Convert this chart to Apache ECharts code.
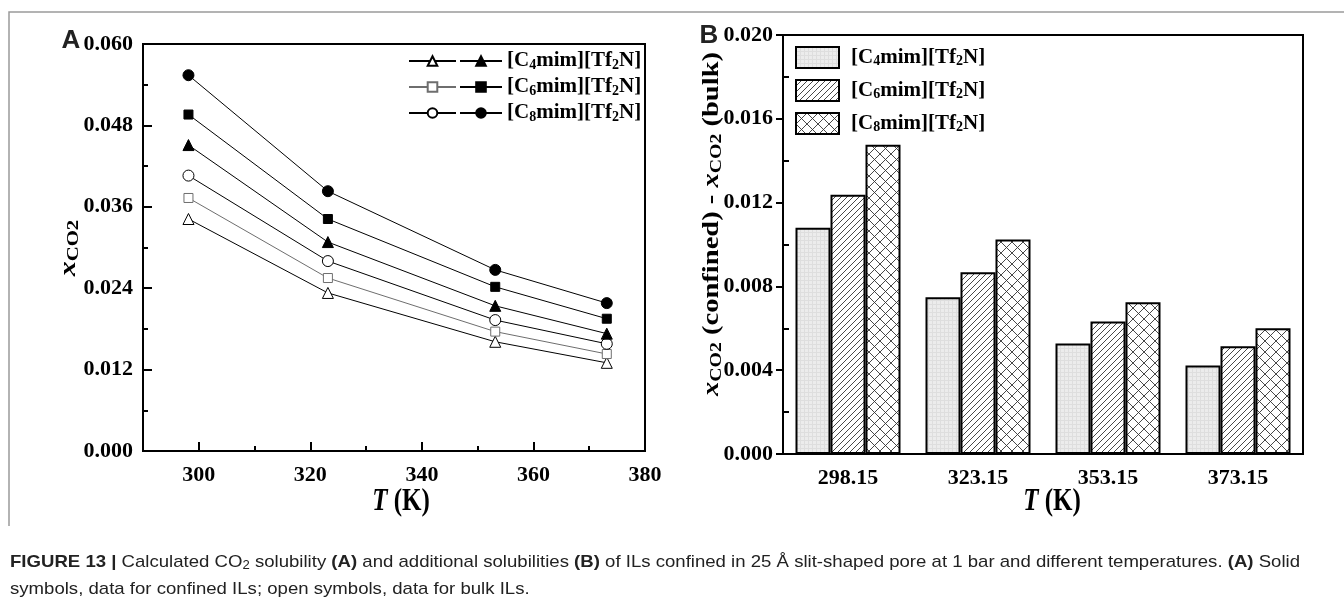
<!DOCTYPE html>
<html>
<head>
<meta charset="utf-8">
<script src="https://cdn.jsdelivr.net/npm/echarts@6/dist/echarts.min.js"></script>
<style>
html,body{margin:0;padding:0;background:#fff;}
#chart{width:1344px;height:602px;}
</style>
</head>
<body>
<div id="chart"></div>
<script>
// ---- Data ----
const temps = [298.15, 323.15, 353.15, 373.15];
const c4Bulk = [0.0342, 0.0233, 0.0161, 0.0130];
const c6Bulk = [0.0373, 0.0255, 0.0176, 0.0143];
const c8Bulk = [0.0406, 0.0280, 0.0193, 0.0158];
const c4Conf = [0.0451, 0.0308, 0.0214, 0.0173];
const c6Conf = [0.0496, 0.0342, 0.0242, 0.0195];
const c8Conf = [0.0554, 0.0383, 0.0267, 0.0218];

const tempCats = ['298.15', '323.15', '353.15', '373.15'];
const c4Diff = [0.0108, 0.00748, 0.00528, 0.00422];
const c6Diff = [0.01238, 0.00867, 0.00633, 0.00514];
const c8Diff = [0.01476, 0.01024, 0.00724, 0.00600];

const xMajorTicks = [300, 320, 340, 360, 380];
const xMinorTicks = [310, 330, 350, 370];

// ---- Styles ----
const SERIF = '"Liberation Serif", "Times New Roman", serif';
const SANS = '"Liberation Sans", Arial, sans-serif';

function pattern(kind) {
  const c = document.createElement('canvas');
  let p;
  if (kind === 'grid') {
    p = 4; c.width = p; c.height = p;
    const g = c.getContext('2d');
    g.fillStyle = '#ececec'; g.fillRect(0, 0, p, p);
    g.fillStyle = '#dedede'; g.fillRect(0, 0, p, 1); g.fillRect(0, 0, 1, p);
  } else if (kind === 'diag') {
    p = 6; c.width = p; c.height = p;
    const g = c.getContext('2d');
    g.fillStyle = '#fff'; g.fillRect(0, 0, p, p);
    g.strokeStyle = '#333'; g.lineWidth = 0.9;
    g.beginPath();
    g.moveTo(0, p); g.lineTo(p, 0);
    g.moveTo(-1, 1); g.lineTo(1, -1);
    g.moveTo(p - 1, p + 1); g.lineTo(p + 1, p - 1);
    g.stroke();
  } else {
    p = 11; c.width = p; c.height = p;
    const g = c.getContext('2d');
    g.fillStyle = '#fff'; g.fillRect(0, 0, p, p);
    g.strokeStyle = '#333'; g.lineWidth = 0.9;
    g.beginPath();
    g.moveTo(0, p); g.lineTo(p, 0);
    g.moveTo(0, 0); g.lineTo(p, p);
    g.stroke();
  }
  return { image: c, repeat: 'repeat' };
}

const legendRich = {
  n: { fontFamily: SERIF, fontWeight: 'bold', fontSize: 21, lineHeight: 22, color: '#000' },
  s: { fontFamily: SERIF, fontWeight: 'bold', fontSize: 14, lineHeight: 12, verticalAlign: 'bottom', color: '#000' }
};
function ilLabel(n) { return '{n|[C}{s|' + n + '}{n|mim][Tf}{s|2}{n|N]}'; }
const legendNames = { c4c: ilLabel(4), c6c: ilLabel(6), c8c: ilLabel(8), C4: ilLabel(4), C6: ilLabel(6), C8: ilLabel(8) };

const tickLabel = { fontFamily: SERIF, fontWeight: 'bold', fontSize: 22, color: '#000' };
const blackLine = { color: '#000', width: 2 };

function pairs(vals) { return temps.map((t, i) => [t, vals[i]]); }

function lineSeries(name, vals, symbol, filled, stroke) {
  return {
    type: 'line', name: name, xAxisIndex: 0, yAxisIndex: 0,
    data: pairs(vals), symbol: symbol, symbolSize: symbol === 'rect' ? 9 : 11,
    itemStyle: filled ? { color: '#000', borderColor: '#000', borderWidth: 1 }
                      : { color: '#fff', borderColor: stroke, borderWidth: 1 },
    lineStyle: { color: stroke, width: 1 },
    z: 3
  };
}

function barSeries(name, vals, fill) {
  return {
    type: 'bar', name: name, xAxisIndex: 2, yAxisIndex: 1,
    data: vals, barWidth: 35, barGap: '0%',
    itemStyle: { color: fill, borderColor: '#000', borderWidth: 2 }
  };
}

// ---- Caption measurement ----
const capFrags1 = [
  ['b', 'FIGURE 13 | '], ['n', 'Calculated CO'], ['s', '2'], ['n', ' solubility '], ['b', '(A)'],
  ['n', ' and additional solubilities '], ['b', '(B)'],
  ['n', ' of ILs confined in 25 Å slit-shaped pore at 1 bar and different temperatures. '],
  ['b', '(A)'], ['n', ' Solid']
];
const capFrags2 = [['n', 'symbols, data for confined ILs; open symbols, data for bulk ILs.']];
const capFont = { b: 'bold 17px ' + SANS, n: '17px ' + SANS, s: '12px ' + SANS };
const mctx = document.createElement('canvas').getContext('2d');
let capW = 0;
capFrags1.forEach(f => { mctx.font = capFont[f[0]]; capW += mctx.measureText(f[1]).width; });
const capScale = 1290 / capW;
function richStr(frags) { return frags.map(f => '{' + f[0] + '|' + f[1] + '}').join(''); }
const capRich = {
  b: { fontFamily: SANS, fontWeight: 'bold', fontSize: 17, lineHeight: 19, fill: '#222' },
  n: { fontFamily: SANS, fontSize: 17, lineHeight: 19, fill: '#222' },
  s: { fontFamily: SANS, fontSize: 12, lineHeight: 10, verticalAlign: 'bottom', fill: '#222' }
};

const titleRich = {
  i: { fontFamily: SERIF, fontWeight: 'bold', fontStyle: 'italic', fontSize: 23, lineHeight: 26, fill: '#000' },
  n: { fontFamily: SERIF, fontWeight: 'bold', fontSize: 23, lineHeight: 26, fill: '#000' },
  s: { fontFamily: SERIF, fontWeight: 'bold', fontSize: 16, lineHeight: 14, verticalAlign: 'bottom', fill: '#000' }
};
const tkRich = {
  i: { fontFamily: SERIF, fontWeight: 'bold', fontStyle: 'italic', fontSize: 25, lineHeight: 28, fill: '#000' },
  n: { fontFamily: SERIF, fontWeight: 'bold', fontSize: 25, lineHeight: 28, fill: '#000' }
};

function gText(x, y, text, rich, opts) {
  return Object.assign({
    type: 'text', x: x, y: y, silent: true,
    style: { text: text, rich: rich, align: 'center', verticalAlign: 'middle', textAlign: 'center', textVerticalAlign: 'middle' }
  }, opts || {});
}

const option = {
  animation: false,
  backgroundColor: '#fff',
  grid: [
    { left: 143, top: 44, width: 502, height: 407, show: true, borderColor: '#000', borderWidth: 2, backgroundColor: 'transparent' },
    { left: 783, top: 35, width: 520, height: 419, show: true, borderColor: '#000', borderWidth: 2, backgroundColor: 'transparent' }
  ],
  xAxis: [
    { gridIndex: 0, type: 'value', min: 290, max: 380,
      axisLine: { onZero: false, lineStyle: blackLine },
      axisTick: { inside: true, length: 9, customValues: xMajorTicks, lineStyle: blackLine },
      axisLabel: Object.assign({ margin: 13, customValues: xMajorTicks }, tickLabel),
      splitLine: { show: false } },
    { gridIndex: 0, type: 'value', min: 290, max: 380, position: 'top', offset: -407,
      axisLine: { show: false, onZero: false },
      axisTick: { inside: false, length: 5, customValues: xMinorTicks, lineStyle: blackLine },
      axisLabel: { show: false }, splitLine: { show: false } },
    { gridIndex: 1, type: 'category', data: tempCats,
      axisLine: { onZero: false, lineStyle: blackLine },
      axisTick: { inside: true, length: 5, alignWithLabel: false, lineStyle: blackLine },
      axisLabel: Object.assign({ margin: 13 }, tickLabel) },
    { gridIndex: 1, type: 'category', data: tempCats, position: 'top', offset: -419,
      axisLine: { show: false, onZero: false },
      axisTick: { inside: false, length: 8, alignWithLabel: true, lineStyle: blackLine },
      axisLabel: { show: false } }
  ],
  yAxis: [
    { gridIndex: 0, type: 'value', min: 0, max: 0.06, interval: 0.012,
      axisLine: { show: true, onZero: false, lineStyle: blackLine },
      axisTick: { show: true, inside: true, length: 9, lineStyle: blackLine },
      minorTick: { show: true, splitNumber: 2, length: 5, lineStyle: { color: '#000', width: 2 } },
      axisLabel: Object.assign({ margin: 10, formatter: v => v.toFixed(3) }, tickLabel),
      splitLine: { show: false } },
    { gridIndex: 1, type: 'value', min: 0, max: 0.02, interval: 0.004,
      axisLine: { show: true, onZero: false, lineStyle: blackLine },
      axisTick: { show: true, inside: false, length: 7, lineStyle: blackLine },
      axisLabel: Object.assign({ margin: 10, formatter: v => v.toFixed(3) }, tickLabel),
      splitLine: { show: false } },
    { gridIndex: 1, type: 'value', min: 0, max: 0.02, interval: 0.004, position: 'right', offset: -520,
      axisLine: { show: false, onZero: false },
      axisTick: { show: false, inside: false },
      minorTick: { show: true, splitNumber: 2, length: 6, lineStyle: { color: '#000', width: 2 } },
      axisLabel: { show: false }, splitLine: { show: false } }
  ],
  legend: [
    { data: ['c4b', 'c6b', 'c8b'], left: 408, top: 50, padding: 0, orient: 'vertical', itemWidth: 47, itemHeight: 12, itemGap: 4,
      selectedMode: false, formatter: () => ' ',
      textStyle: { fontFamily: SERIF, fontSize: 21, lineHeight: 22 } },
    { data: ['c4c', 'c6c', 'c8c'], left: 459, top: 50, padding: 0, orient: 'vertical', itemWidth: 42, itemHeight: 12, itemGap: 4,
      selectedMode: false, formatter: n => legendNames[n],
      textStyle: { fontFamily: SERIF, fontWeight: 'bold', fontSize: 21, lineHeight: 22, color: '#000', rich: legendRich } },
    { data: ['C4', 'C6', 'C8'], left: 795, top: 46, padding: 0, orient: 'vertical', itemWidth: 43, itemHeight: 21, itemGap: 10, icon: 'rect',
      selectedMode: false, formatter: n => legendNames[n],
      textStyle: { fontFamily: SERIF, fontWeight: 'bold', fontSize: 21, lineHeight: 22, color: '#000', padding: [0, 0, 0, 7], rich: legendRich } }
  ],
  series: [
    lineSeries('c4b', c4Bulk, 'triangle', false, '#000'),
    lineSeries('c6b', c6Bulk, 'rect', false, '#6e6e6e'),
    lineSeries('c8b', c8Bulk, 'circle', false, '#000'),
    lineSeries('c4c', c4Conf, 'triangle', true, '#000'),
    lineSeries('c6c', c6Conf, 'rect', true, '#000'),
    lineSeries('c8c', c8Conf, 'circle', true, '#000'),
    barSeries('C4', c4Diff, pattern('grid')),
    barSeries('C6', c6Diff, pattern('diag')),
    barSeries('C8', c8Diff, pattern('cross'))
  ],
  graphic: [
    { type: 'polyline', silent: true, shape: { points: [[9, 526], [9, 12], [1344, 12]] },
      style: { stroke: '#9a9a9a', lineWidth: 1.5, fill: null } },
    gText(71, 41, 'A', null, { style: { text: 'A', font: 'bold 26px ' + SANS, fill: '#222', align: 'center', verticalAlign: 'middle' } }),
    gText(709, 36, 'B', null, { style: { text: 'B', font: 'bold 26px ' + SANS, fill: '#222', align: 'center', verticalAlign: 'middle' } }),
    gText(69, 248, '{i|x}{s|CO2}', titleRich, { rotation: Math.PI / 2, scaleX: 1.3 }),
    gText(712, 224, '{i|x}{s|CO2}{n| (confined) - }{i|x}{s|CO2}{n| (bulk)}', titleRich, { rotation: Math.PI / 2, scaleX: 1.24 }),
    gText(401, 502, '{i|T}{n| (K)}', tkRich, { scaleY: 1.3 }),
    gText(1052, 502, '{i|T}{n| (K)}', tkRich, { scaleY: 1.3 }),
    { type: 'text', x: 10, y: 562, silent: true, scaleX: capScale,
      style: { text: richStr(capFrags1), rich: capRich, align: 'left', verticalAlign: 'middle' } },
    { type: 'text', x: 10, y: 589, silent: true, scaleX: capScale,
      style: { text: richStr(capFrags2), rich: capRich, align: 'left', verticalAlign: 'middle' } }
  ]
};

const chart = echarts.init(document.getElementById('chart'), null, { renderer: 'canvas' });
chart.setOption(option);
</script>
</body>
</html>
